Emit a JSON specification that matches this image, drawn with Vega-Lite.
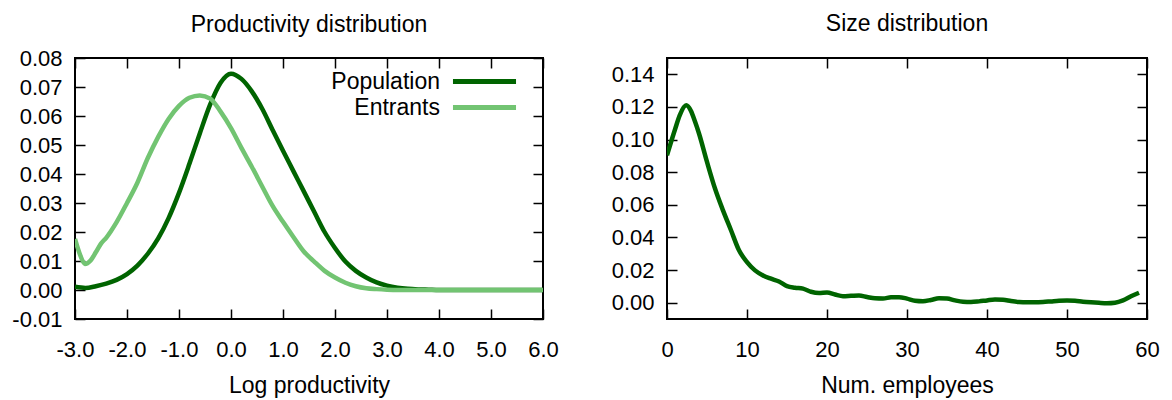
{
  "$schema": "https://vega.github.io/schema/vega-lite/v6.json",
  "padding": {"left": 10, "top": 12, "right": 20, "bottom": 5},
  "config": {
    "font": "Liberation Sans",
    "view": {"stroke": "#000", "strokeWidth": 2},
    "axis": {"grid": false, "domain": false, "tickColor": "#000", "tickWidth": 1.5, "tickSize": -10, "labelFontSize": 22, "labelColor": "#000", "titleFontSize": 23, "titleFontWeight": "normal", "titleColor": "#000", "labelFlush": false, "labelOverlap": false, "labelFont": "Liberation Sans", "titleFont": "Liberation Sans"},
    "title": {"fontSize": 23, "fontWeight": "normal", "color": "#000", "font": "Liberation Sans"},
    "legend": {"labelFont": "Liberation Sans"},
    "concat": {"spacing": 50}
  },
  "hconcat": [
    {
      "width": 468,
      "height": 261,
      "title": {"text": "Productivity distribution", "offset": 10},
      "data": {"values": [
        {"x": -3.0, "y": 0.0011, "series": "Population"},
        {"x": -2.8, "y": 0.0007, "series": "Population"},
        {"x": -2.6, "y": 0.0013, "series": "Population"},
        {"x": -2.4, "y": 0.0022, "series": "Population"},
        {"x": -2.2, "y": 0.0035, "series": "Population"},
        {"x": -2.0, "y": 0.0055, "series": "Population"},
        {"x": -1.8, "y": 0.0084, "series": "Population"},
        {"x": -1.6, "y": 0.0125, "series": "Population"},
        {"x": -1.4, "y": 0.0178, "series": "Population"},
        {"x": -1.2, "y": 0.0248, "series": "Population"},
        {"x": -1.0, "y": 0.0335, "series": "Population"},
        {"x": -0.8, "y": 0.0435, "series": "Population"},
        {"x": -0.6, "y": 0.0540, "series": "Population"},
        {"x": -0.4, "y": 0.0640, "series": "Population"},
        {"x": -0.2, "y": 0.0715, "series": "Population"},
        {"x": 0.0, "y": 0.0746, "series": "Population"},
        {"x": 0.2, "y": 0.0728, "series": "Population"},
        {"x": 0.4, "y": 0.0685, "series": "Population"},
        {"x": 0.6, "y": 0.0625, "series": "Population"},
        {"x": 0.8, "y": 0.0552, "series": "Population"},
        {"x": 1.0, "y": 0.048, "series": "Population"},
        {"x": 1.2, "y": 0.041, "series": "Population"},
        {"x": 1.4, "y": 0.034, "series": "Population"},
        {"x": 1.6, "y": 0.027, "series": "Population"},
        {"x": 1.8, "y": 0.020, "series": "Population"},
        {"x": 2.0, "y": 0.0145, "series": "Population"},
        {"x": 2.2, "y": 0.0098, "series": "Population"},
        {"x": 2.4, "y": 0.0066, "series": "Population"},
        {"x": 2.6, "y": 0.0043, "series": "Population"},
        {"x": 2.8, "y": 0.0026, "series": "Population"},
        {"x": 3.0, "y": 0.0015, "series": "Population"},
        {"x": 3.2, "y": 0.0008, "series": "Population"},
        {"x": 3.4, "y": 0.0004, "series": "Population"},
        {"x": 3.6, "y": 0.0002, "series": "Population"},
        {"x": 3.8, "y": 0.0001, "series": "Population"},
        {"x": 4.0, "y": 0.0, "series": "Population"},
        {"x": 5.0, "y": 0.0, "series": "Population"},
        {"x": 6.0, "y": 0.0, "series": "Population"},
        {"x": -3.0, "y": 0.0176, "series": "Entrants"},
        {"x": -2.9, "y": 0.012, "series": "Entrants"},
        {"x": -2.81, "y": 0.009, "series": "Entrants"},
        {"x": -2.7, "y": 0.0102, "series": "Entrants"},
        {"x": -2.6, "y": 0.013, "series": "Entrants"},
        {"x": -2.5, "y": 0.016, "series": "Entrants"},
        {"x": -2.4, "y": 0.018, "series": "Entrants"},
        {"x": -2.2, "y": 0.0234, "series": "Entrants"},
        {"x": -2.0, "y": 0.030, "series": "Entrants"},
        {"x": -1.8, "y": 0.037, "series": "Entrants"},
        {"x": -1.6, "y": 0.0455, "series": "Entrants"},
        {"x": -1.4, "y": 0.0528, "series": "Entrants"},
        {"x": -1.2, "y": 0.059, "series": "Entrants"},
        {"x": -1.0, "y": 0.0635, "series": "Entrants"},
        {"x": -0.8, "y": 0.0663, "series": "Entrants"},
        {"x": -0.6, "y": 0.0671, "series": "Entrants"},
        {"x": -0.4, "y": 0.066, "series": "Entrants"},
        {"x": -0.2, "y": 0.0615, "series": "Entrants"},
        {"x": 0.0, "y": 0.0558, "series": "Entrants"},
        {"x": 0.2, "y": 0.049, "series": "Entrants"},
        {"x": 0.4, "y": 0.0425, "series": "Entrants"},
        {"x": 0.6, "y": 0.0357, "series": "Entrants"},
        {"x": 0.8, "y": 0.029, "series": "Entrants"},
        {"x": 1.0, "y": 0.0235, "series": "Entrants"},
        {"x": 1.2, "y": 0.0183, "series": "Entrants"},
        {"x": 1.4, "y": 0.0133, "series": "Entrants"},
        {"x": 1.6, "y": 0.0098, "series": "Entrants"},
        {"x": 1.8, "y": 0.0066, "series": "Entrants"},
        {"x": 2.0, "y": 0.0043, "series": "Entrants"},
        {"x": 2.2, "y": 0.0025, "series": "Entrants"},
        {"x": 2.4, "y": 0.0013, "series": "Entrants"},
        {"x": 2.6, "y": 0.0006, "series": "Entrants"},
        {"x": 2.8, "y": 0.0003, "series": "Entrants"},
        {"x": 3.0, "y": 0.0001, "series": "Entrants"},
        {"x": 3.2, "y": 0.0, "series": "Entrants"},
        {"x": 4.0, "y": 0.0, "series": "Entrants"},
        {"x": 5.0, "y": 0.0, "series": "Entrants"},
        {"x": 6.0, "y": 0.0, "series": "Entrants"}
      ]},
      "layer": [
        {
          "transform": [{"filter": "datum.series === 'Population'"}],
          "mark": {"type": "line", "strokeWidth": 4.5, "clip": true, "interpolate": "monotone"},
          "encoding": {
            "x": {"field": "x", "type": "quantitative", "scale": {"domain": [-3, 6], "nice": false, "zero": false},
                  "axis": {"orient": "bottom", "values": [-3, -2, -1, 0, 1, 2, 3, 4, 5, 6], "labelExpr": "replace(format(datum.value, '.1f'), '\u2212', '-')", "labelPadding": 30, "title": "Log productivity", "titlePadding": 14}},
            "y": {"field": "y", "type": "quantitative", "scale": {"domain": [-0.01, 0.08], "nice": false, "zero": false},
                  "axis": {"orient": "left", "values": [-0.01, 0, 0.01, 0.02, 0.03, 0.04, 0.05, 0.06, 0.07, 0.08], "labelExpr": "replace(format(datum.value, '.2f'), '\u2212', '-')", "labelPadding": 23, "title": null}},
            "color": {"field": "series", "type": "nominal",
                      "scale": {"domain": ["Population", "Entrants"], "range": ["#006400", "#72c472"]},
                      "legend": {"orient": "none", "legendX": 398, "legendY": 12, "title": null, "symbolType": "M-5,0H5", "symbolSize": 159, "symbolStrokeWidth": 5, "labelAlign": "right", "labelOffset": -56, "labelFontSize": 23, "labelColor": "#000", "rowPadding": 2, "padding": 0}}
          }
        },
        {
          "transform": [{"filter": "datum.series === 'Entrants'"}],
          "mark": {"type": "line", "strokeWidth": 4.5, "clip": true, "interpolate": "monotone"},
          "encoding": {
            "x": {"field": "x", "type": "quantitative", "scale": {"domain": [-3, 6], "nice": false, "zero": false},
                  "axis": {"orient": "top", "values": [-3, -2, -1, 0, 1, 2, 3, 4, 5, 6], "labels": false, "title": null}},
            "y": {"field": "y", "type": "quantitative", "scale": {"domain": [-0.01, 0.08], "nice": false, "zero": false},
                  "axis": {"orient": "right", "values": [-0.01, 0, 0.01, 0.02, 0.03, 0.04, 0.05, 0.06, 0.07, 0.08], "labels": false, "title": null}},
            "color": {"field": "series", "type": "nominal",
                      "scale": {"domain": ["Population", "Entrants"], "range": ["#006400", "#72c472"]}}
          }
        }
      ],
      "resolve": {"axis": {"x": "independent", "y": "independent"}}
    },
    {
      "width": 480,
      "height": 261,
      "title": {"text": "Size distribution", "offset": 21},
      "data": {"values": [
        {"x": 0, "y": 0.0904}, {"x": 1, "y": 0.1062}, {"x": 1.6, "y": 0.1150}, {"x": 2.4, "y": 0.1210},
        {"x": 3, "y": 0.1175}, {"x": 3.5, "y": 0.1110}, {"x": 4, "y": 0.1037}, {"x": 5, "y": 0.0863},
        {"x": 6, "y": 0.0700}, {"x": 7, "y": 0.0566}, {"x": 8, "y": 0.0444}, {"x": 9, "y": 0.0321},
        {"x": 10, "y": 0.0249}, {"x": 11, "y": 0.0198}, {"x": 12, "y": 0.0167}, {"x": 13, "y": 0.0147},
        {"x": 14, "y": 0.0130}, {"x": 15, "y": 0.0102}, {"x": 16, "y": 0.0092}, {"x": 17, "y": 0.0086},
        {"x": 18, "y": 0.0067}, {"x": 19, "y": 0.0059}, {"x": 20, "y": 0.0062}, {"x": 21, "y": 0.0050},
        {"x": 22, "y": 0.0040}, {"x": 23, "y": 0.0042}, {"x": 24, "y": 0.0044}, {"x": 25, "y": 0.0035},
        {"x": 26, "y": 0.0027}, {"x": 27, "y": 0.0026}, {"x": 28, "y": 0.0033}, {"x": 29, "y": 0.0034},
        {"x": 30, "y": 0.0025}, {"x": 31, "y": 0.0012}, {"x": 32, "y": 0.0009}, {"x": 33, "y": 0.0017},
        {"x": 34, "y": 0.0027}, {"x": 35, "y": 0.0025}, {"x": 36, "y": 0.0014}, {"x": 37, "y": 0.0006},
        {"x": 38, "y": 0.0004}, {"x": 39, "y": 0.0008}, {"x": 40, "y": 0.0014}, {"x": 41, "y": 0.0019},
        {"x": 42, "y": 0.0018}, {"x": 43, "y": 0.0010}, {"x": 44, "y": 0.0004}, {"x": 45, "y": 0.0002},
        {"x": 46, "y": 0.0002}, {"x": 47, "y": 0.0004}, {"x": 48, "y": 0.0008}, {"x": 49, "y": 0.0012},
        {"x": 50, "y": 0.0014}, {"x": 51, "y": 0.0012}, {"x": 52, "y": 0.0006}, {"x": 53, "y": 0.0002},
        {"x": 54, "y": -0.0001}, {"x": 55, "y": -0.0003}, {"x": 56, "y": 0.0000}, {"x": 57, "y": 0.0014},
        {"x": 58, "y": 0.0039}, {"x": 59, "y": 0.0061}
      ]},
      "layer": [
        {
          "mark": {"type": "line", "strokeWidth": 4.5, "color": "#006400", "clip": true, "interpolate": "monotone"},
          "encoding": {
            "x": {"field": "x", "type": "quantitative", "scale": {"domain": [0, 60], "nice": false, "zero": false},
                  "axis": {"orient": "bottom", "values": [0, 10, 20, 30, 40, 50, 60], "format": "d", "labelPadding": 30, "title": "Num. employees", "titlePadding": 14}},
            "y": {"field": "y", "type": "quantitative", "scale": {"domain": [-0.01, 0.15], "nice": false, "zero": false},
                  "axis": {"orient": "left", "values": [0, 0.02, 0.04, 0.06, 0.08, 0.1, 0.12, 0.14], "format": ".2f", "labelPadding": 23, "title": null}}
          }
        },
        {
          "mark": {"type": "line", "strokeWidth": 4.5, "color": "#006400", "opacity": 0, "clip": true},
          "encoding": {
            "x": {"field": "x", "type": "quantitative", "scale": {"domain": [0, 60], "nice": false, "zero": false},
                  "axis": {"orient": "top", "values": [0, 10, 20, 30, 40, 50, 60], "labels": false, "title": null}},
            "y": {"field": "y", "type": "quantitative", "scale": {"domain": [-0.01, 0.15], "nice": false, "zero": false},
                  "axis": {"orient": "right", "values": [0, 0.02, 0.04, 0.06, 0.08, 0.1, 0.12, 0.14], "labels": false, "title": null}}
          }
        }
      ],
      "resolve": {"axis": {"x": "independent", "y": "independent"}}
    }
  ]
}
